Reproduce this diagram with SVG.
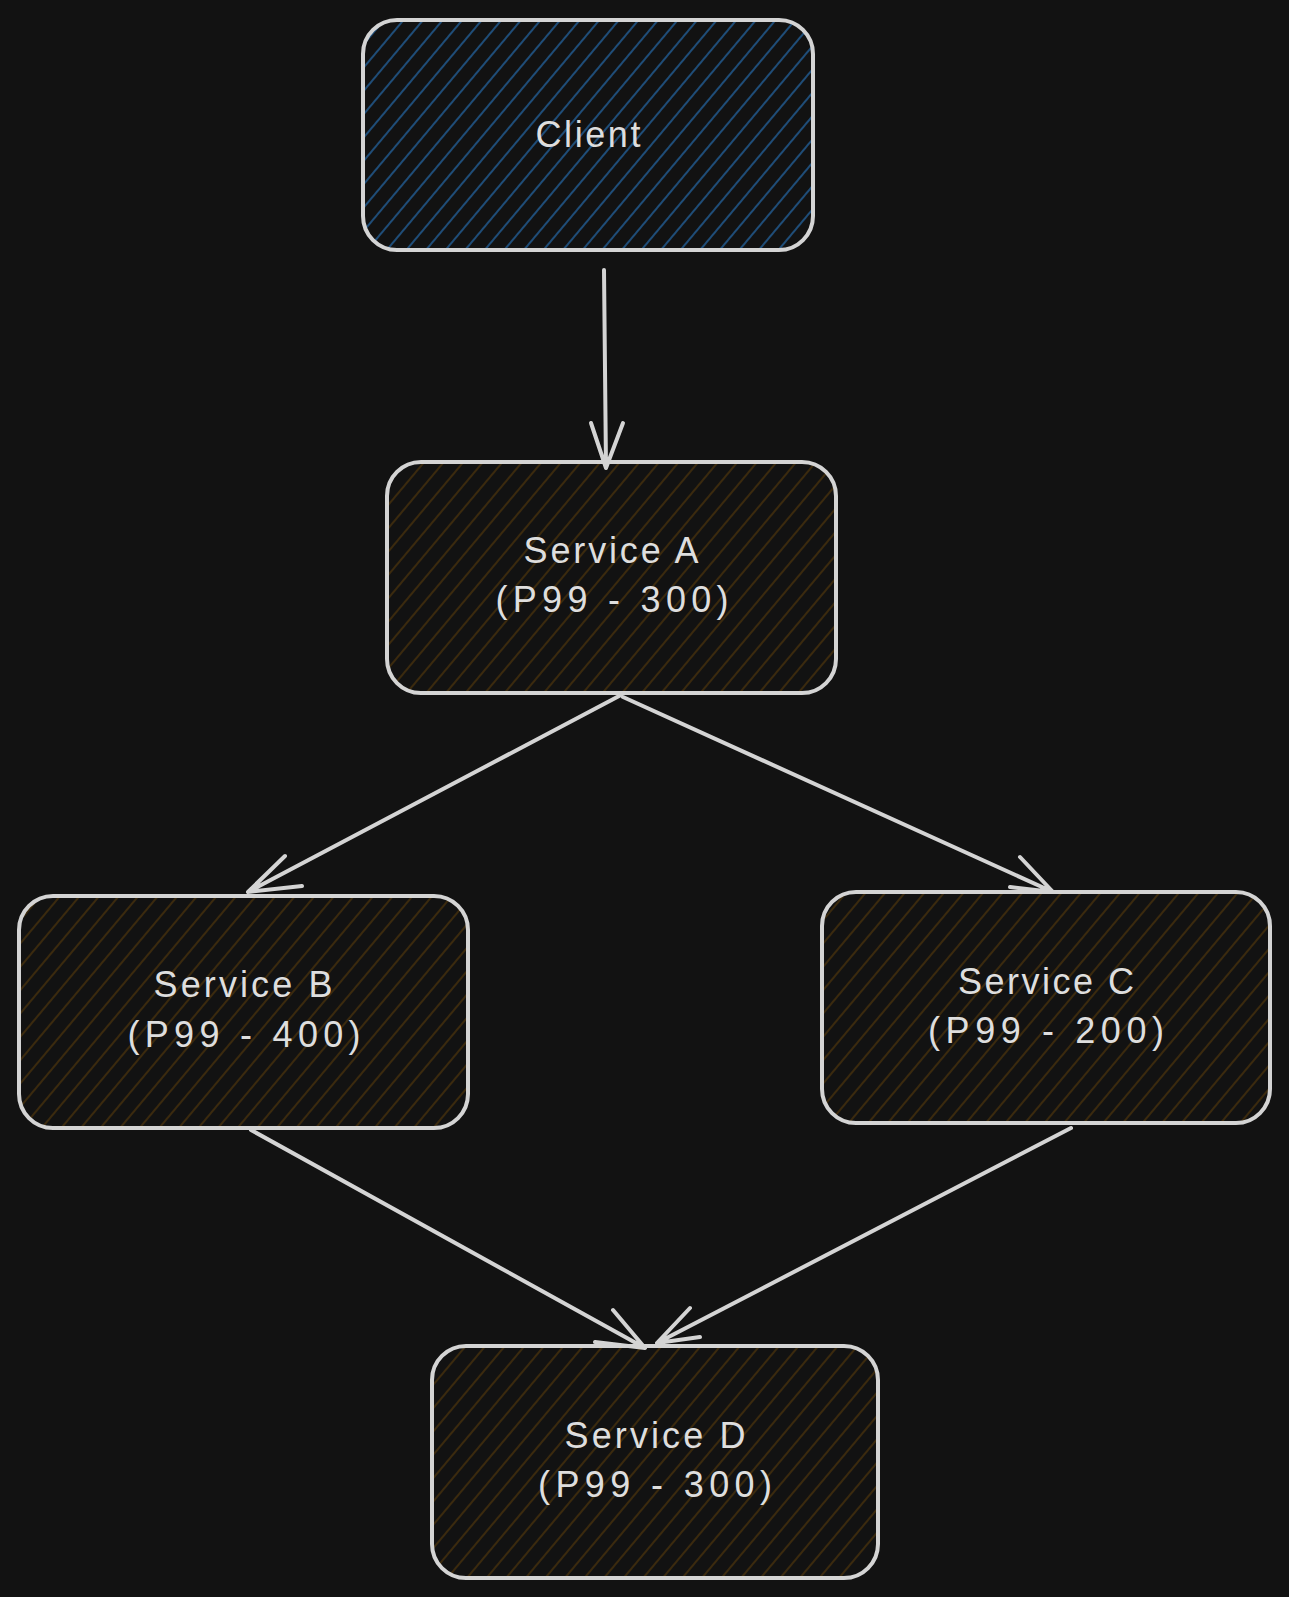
<svg xmlns="http://www.w3.org/2000/svg" width="1289" height="1597" viewBox="0 0 1289 1597">
<defs>
<pattern id="hBlue" patternUnits="userSpaceOnUse" width="15" height="15" patternTransform="rotate(40)">
<line x1="7" y1="0" x2="7" y2="15" stroke="#1f4d78" stroke-width="2"/>
</pattern>
<pattern id="hBrown" patternUnits="userSpaceOnUse" width="15" height="15" patternTransform="rotate(40)">
<line x1="7" y1="0" x2="7" y2="15" stroke="#3b2a0e" stroke-width="2"/>
</pattern>
</defs>
<style>
.box{stroke:#d4d4d4;stroke-width:4;}
.lbl{font-family:"Liberation Sans","Noto Sans",sans-serif;font-size:36px;fill:#dedede;text-anchor:middle;}
.edge{stroke:#d4d4d4;stroke-width:4;fill:none;stroke-linecap:round;stroke-linejoin:round;}
</style>
<rect x="0" y="0" width="1289" height="1597" fill="#121212"/>
<g id="client">
<rect class="box" x="363" y="20" width="450" height="230" rx="34" fill="url(#hBlue)"/>
<text class="lbl" x="588" y="147" textLength="105" lengthAdjust="spacing">Client</text>
</g>
<g id="serviceA">
<rect class="box" x="387" y="462" width="449" height="231" rx="34" fill="url(#hBrown)"/>
<text class="lbl" x="611" y="563" textLength="175" lengthAdjust="spacing">Service A</text>
<text class="lbl" x="612" y="612" textLength="233" lengthAdjust="spacing">(P99 - 300)</text>
</g>
<g id="serviceB">
<rect class="box" x="19" y="896" width="449" height="232" rx="34" fill="url(#hBrown)"/>
<text class="lbl" x="243" y="997" textLength="179" lengthAdjust="spacing">Service B</text>
<text class="lbl" x="244" y="1047" textLength="233" lengthAdjust="spacing">(P99 - 400)</text>
</g>
<g id="serviceC">
<rect class="box" x="822" y="892" width="448" height="231" rx="34" fill="url(#hBrown)"/>
<text class="lbl" x="1046" y="994" textLength="176" lengthAdjust="spacing">Service C</text>
<text class="lbl" x="1046" y="1043" textLength="236" lengthAdjust="spacing">(P99 - 200)</text>
</g>
<g id="serviceD">
<rect class="box" x="432" y="1346" width="446" height="232" rx="34" fill="url(#hBrown)"/>
<text class="lbl" x="655" y="1448" textLength="181" lengthAdjust="spacing">Service D</text>
<text class="lbl" x="655" y="1497" textLength="234" lengthAdjust="spacing">(P99 - 300)</text>
</g>
<g id="connectors">
<path class="edge" d="M604 270 L606 468 M591 423 L606 468 L623 423"/>
<path class="edge" d="M621 695 L248 892 M285 856 L248 892 L302 886"/>
<path class="edge" d="M623 697 L1053 892 M1020 857 L1053 892 L1010 887"/>
<path class="edge" d="M251 1130 L645 1348 M613 1310 L645 1348 L595 1342"/>
<path class="edge" d="M1071 1128 L657 1343 M690 1308 L657 1343 L700 1337"/>
</g>
</svg>
